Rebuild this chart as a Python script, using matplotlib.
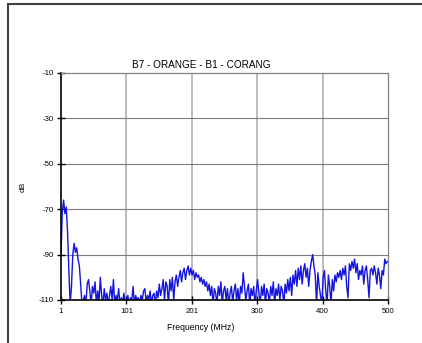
import matplotlib
matplotlib.use("Agg")
import matplotlib.pyplot as plt
from matplotlib.lines import Line2D
import numpy as np

plt.rcParams['font.family'] = ['Liberation Sans', 'DejaVu Sans']

title = "B7 - ORANGE - B1 - CORANG"
xlabel = "Frequency (MHz)"
ylabel = "dB"
x_tick_labels = ["1", "101", "201", "300", "400", "500"]
y_ticks = [-110, -90, -70, -50, -30, -10]

freq_start = 1
freq_step = 2
level_db = [
    -90, -71, -66, -72, -69, -80, -97, -112, -104, -90,
    -85, -89, -87, -92, -95, -103, -112, -110, -108, -112,
    -103, -101, -106, -112, -104, -107, -102, -112, -106, -111,
    -100, -108, -112, -105, -110, -107, -112, -108, -104, -110,
    -101, -112, -108, -110, -105, -112, -109, -111, -107, -112,
    -110, -108, -112, -109, -110, -104, -112, -108, -110, -109,
    -112, -108, -110, -106, -105, -111, -108, -110, -106, -112,
    -108, -107, -112, -106, -109, -103, -108, -105, -101, -110,
    -102, -104, -112, -101, -106, -100, -110, -102, -99, -104,
    -100, -97, -102, -98, -96, -101, -97, -95, -99, -96,
    -99, -97, -101, -98, -100, -99, -102, -100, -103, -101,
    -104, -102, -106, -103, -108, -104, -112, -105, -107, -112,
    -104, -108, -102, -112, -106, -104, -110, -105, -112, -107,
    -104, -111, -106, -103, -110, -105, -112, -104, -107, -98,
    -104, -110, -106, -103, -112, -105, -108, -104, -112, -106,
    -101, -107, -112, -104, -108, -103, -112, -105, -107, -111,
    -104, -108, -102, -112, -105, -108, -103, -110, -104, -106,
    -112, -103, -107, -101, -106, -100, -108, -99, -103, -97,
    -104, -96, -101, -95, -103, -97, -94, -100, -96, -104,
    -97, -93, -90, -95, -99, -112, -98, -104, -108, -112,
    -100, -97, -106, -112, -99, -104, -112, -101, -106, -99,
    -102, -98, -100, -97, -101, -96, -99, -95, -104, -109,
    -94, -97, -93, -96, -92, -98, -94, -101, -97, -99,
    -95, -103, -97, -95, -101, -109, -97, -96, -99, -95,
    -98, -103, -96, -99, -105, -97, -99, -92, -94, -93,
]
freq = freq_start + freq_step * np.arange(len(level_db))

fig = plt.figure(figsize=(4.22, 3.43), dpi=100)
ax = fig.add_axes([61/422, 43/343, 327/422, 227/343])

ax.plot(freq, level_db, color='#1414dc', lw=1.0, clip_on=True)

ax.set_xlim(1, 500)
ax.set_ylim(-110, -10)
xt = np.linspace(1, 500, 6)
ax.set_xticks(xt)
ax.set_xticklabels(x_tick_labels)
ax.set_yticks(y_ticks)
ax.set_yticklabels([str(v) for v in y_ticks])

for v in xt[1:-1]:
    ax.axvline(v, color='#a8a8a8', lw=1.1, zorder=0)
for v in y_ticks[1:-1]:
    ax.axhline(v, color='#7c7c7c', lw=0.8, zorder=0)

for s in ['top', 'right']:
    ax.spines[s].set_color('#808080')
    ax.spines[s].set_linewidth(0.9)
for s in ['left', 'bottom']:
    ax.spines[s].set_color('black')
    ax.spines[s].set_linewidth(1.2)

ax.tick_params(axis='both', direction='inout', length=6, width=1.0,
               labelsize=5.6, colors='black', pad=2)
ax.tick_params(axis='x', pad=3)

ax.set_ylabel(ylabel, fontsize=6, labelpad=9)
fig.text(201/422, 1 - 328/343, xlabel, fontsize=6.2, ha='center', va='center')
fig.text(201/422, 1 - 65/343, title, fontsize=7.2, ha='center', va='center')

fig.add_artist(Line2D([8/422, 8/422], [0, 1 - 4/343], transform=fig.transFigure,
                      color='#404040', lw=1.5))
fig.add_artist(Line2D([8/422, 1], [1 - 4/343, 1 - 4/343], transform=fig.transFigure,
                      color='#404040', lw=1.5))

fig.savefig("out.png", dpi=100)
